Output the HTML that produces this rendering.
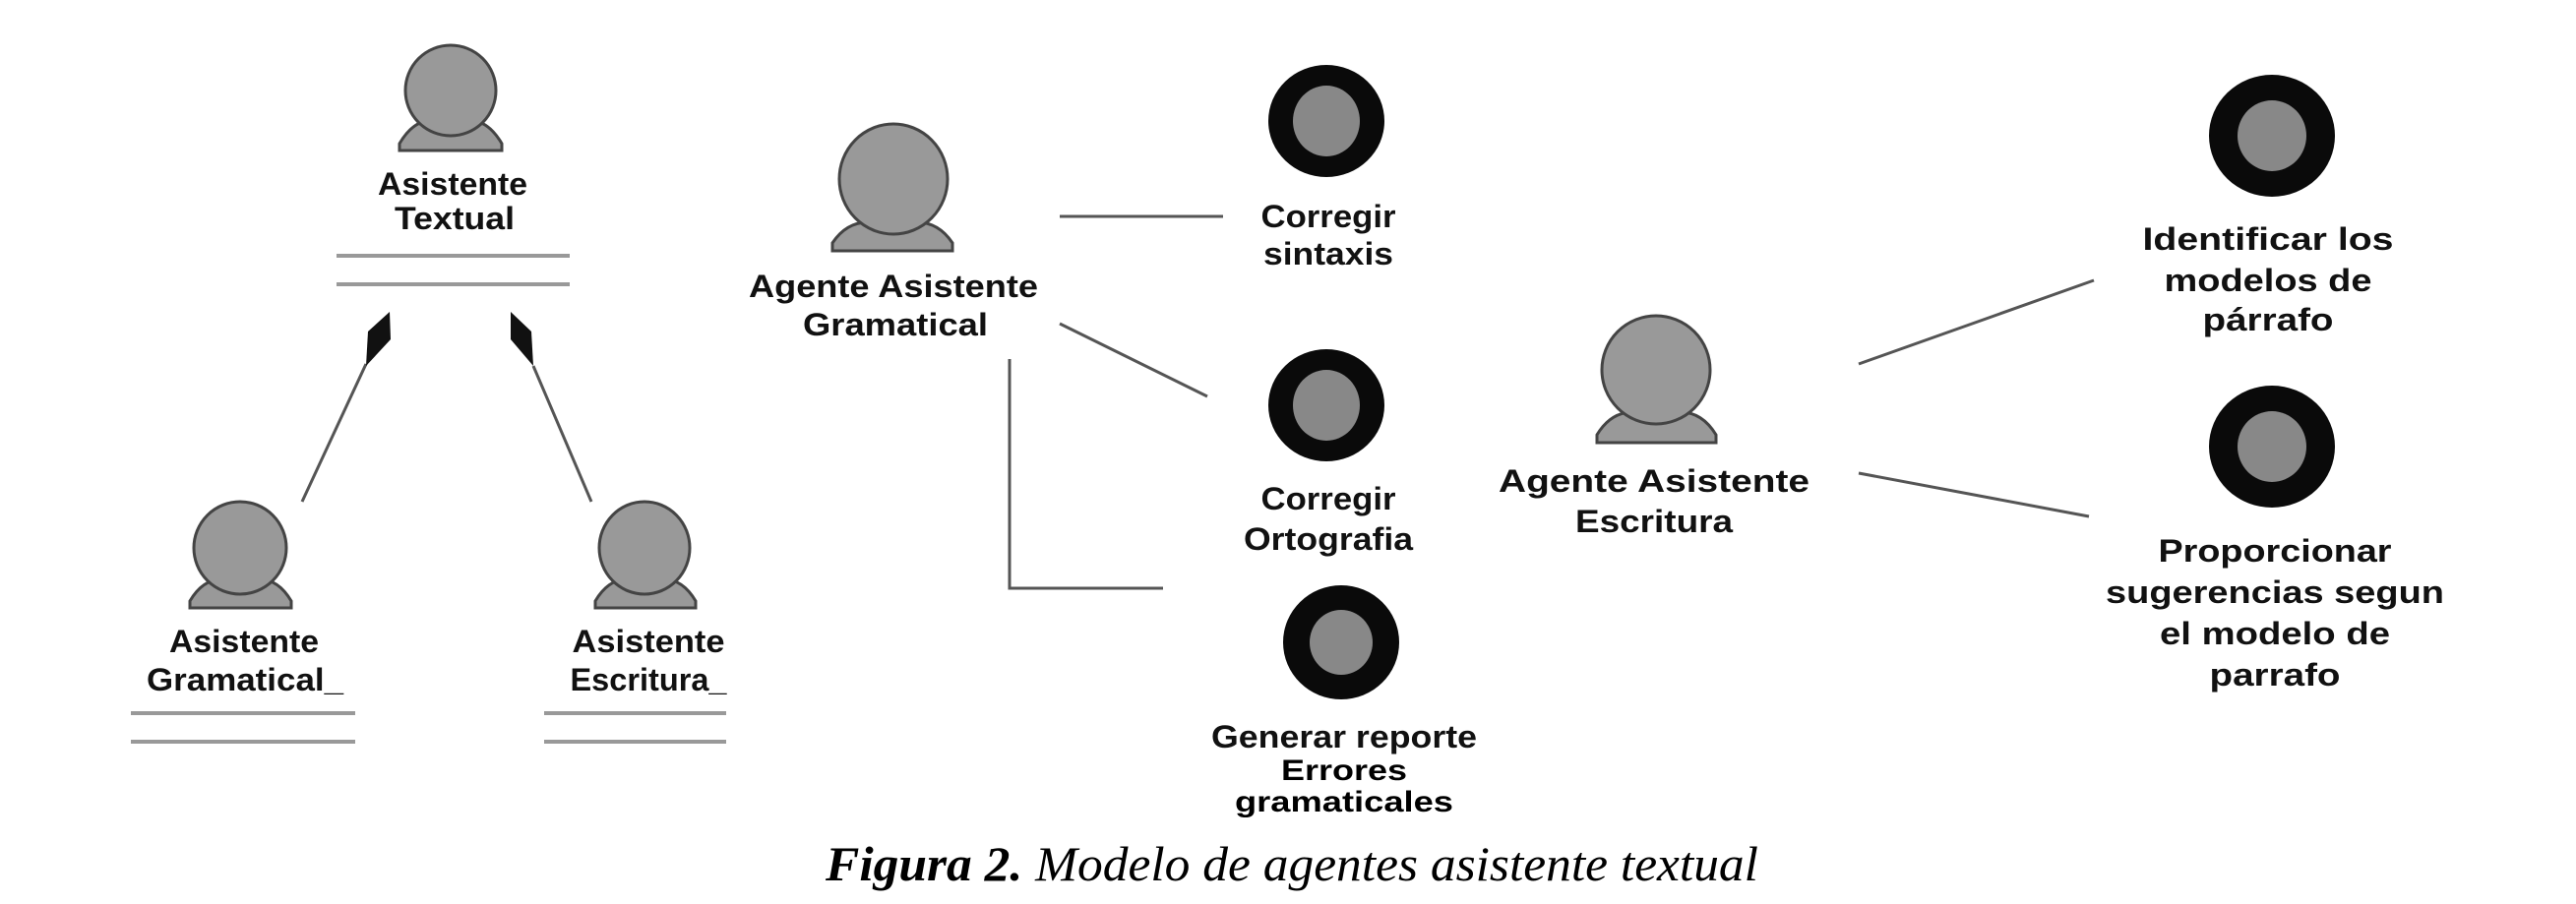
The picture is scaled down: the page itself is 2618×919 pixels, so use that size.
<!DOCTYPE html>
<html><head><meta charset="utf-8"><style>
html,body{margin:0;padding:0;background:#fff;}
svg{display:block;}
.l{font-family:"Liberation Sans",sans-serif;font-weight:bold;font-size:32px;fill:#111;text-anchor:middle;}
.c{font-family:"Liberation Sans",sans-serif;font-weight:bold;font-size:30px;fill:#000;text-anchor:middle;}
</style></head><body>
<svg width="2618" height="919" viewBox="0 0 2618 919" xmlns="http://www.w3.org/2000/svg">
<g stroke="#555" stroke-width="3" fill="none">
<line x1="372" y1="370" x2="307" y2="510"/>
<line x1="542" y1="372" x2="601" y2="510"/>
<polyline points="1026,365 1026,598 1182,598"/>
<line x1="1077" y1="220" x2="1243" y2="220"/>
<line x1="1077" y1="329" x2="1227" y2="403"/>
<line x1="1889" y1="370" x2="2128" y2="285"/>
<line x1="1889" y1="481" x2="2123" y2="525"/>
</g>
<polygon points="396,317 397,345 372,372 374,337" fill="#111"/>
<polygon points="519,317 540,337 542,372 519,345" fill="#111"/>
<g stroke="#999" stroke-width="4">
<line x1="342" y1="260" x2="579" y2="260"/><line x1="342" y1="289" x2="579" y2="289"/>
<line x1="133" y1="725" x2="361" y2="725"/><line x1="133" y1="754" x2="361" y2="754"/>
<line x1="553" y1="725" x2="738" y2="725"/><line x1="553" y1="754" x2="738" y2="754"/>
</g>
<g fill="#999" stroke="#444" stroke-width="3">
<path d="M406,153 L406,146 Q420,122 440,122 L476,122 Q496,122 510,146 L510,153 Z"/>
<ellipse cx="458" cy="92" rx="46" ry="46"/>
<path d="M193,618 L193,611 Q206,589 225,589 L264,589 Q283,589 296,611 L296,618 Z"/>
<ellipse cx="244" cy="557" rx="47" ry="47"/>
<path d="M605,618 L605,611 Q618,589 637,589 L675,589 Q694,589 707,611 L707,618 Z"/>
<ellipse cx="655" cy="557" rx="46" ry="47"/>
<path d="M846,255 L846,247 Q860,226 882,226 L932,226 Q954,226 968,247 L968,255 Z"/>
<ellipse cx="908" cy="182" rx="55" ry="56"/>
<path d="M1623,450 L1623,442 Q1637,419 1659,419 L1708,419 Q1730,419 1744,442 L1744,450 Z"/>
<ellipse cx="1683" cy="376" rx="55" ry="55"/>
</g>
<g>
<ellipse cx="1348" cy="123" rx="59" ry="57" fill="#0a0a0a"/><ellipse cx="1348" cy="123" rx="34" ry="36" fill="#888"/>
<ellipse cx="1348" cy="412" rx="59" ry="57" fill="#0a0a0a"/><ellipse cx="1348" cy="412" rx="34" ry="36" fill="#888"/>
<ellipse cx="1363" cy="653" rx="59" ry="58" fill="#0a0a0a"/><ellipse cx="1363" cy="653" rx="32" ry="33" fill="#888"/>
<ellipse cx="2309" cy="138" rx="64" ry="62" fill="#0a0a0a"/><ellipse cx="2309" cy="138" rx="35" ry="36" fill="#888"/>
<ellipse cx="2309" cy="454" rx="64" ry="62" fill="#0a0a0a"/><ellipse cx="2309" cy="454" rx="35" ry="36" fill="#888"/>
</g>
<g lengthAdjust="spacingAndGlyphs">
<text class="l" x="460" y="198" textLength="152" lengthAdjust="spacingAndGlyphs">Asistente</text>
<text class="l" x="462" y="233" textLength="122" lengthAdjust="spacingAndGlyphs">Textual</text>
<text class="l" x="248" y="663" textLength="152" lengthAdjust="spacingAndGlyphs">Asistente</text>
<text class="l" x="249" y="702" textLength="200" lengthAdjust="spacingAndGlyphs">Gramatical_</text>
<text class="l" x="659" y="663" textLength="155" lengthAdjust="spacingAndGlyphs">Asistente</text>
<text class="l" x="659" y="702" textLength="159" lengthAdjust="spacingAndGlyphs">Escritura_</text>
<text class="l" x="908" y="302" textLength="294" lengthAdjust="spacingAndGlyphs">Agente Asistente</text>
<text class="l" x="910" y="341" textLength="188" lengthAdjust="spacingAndGlyphs">Gramatical</text>
<text class="l" x="1350" y="231" textLength="137" lengthAdjust="spacingAndGlyphs">Corregir</text>
<text class="l" x="1350" y="269" textLength="132" lengthAdjust="spacingAndGlyphs">sintaxis</text>
<text class="l" x="1350" y="518" textLength="137" lengthAdjust="spacingAndGlyphs">Corregir</text>
<text class="l" x="1350" y="559" textLength="172" lengthAdjust="spacingAndGlyphs">Ortografia</text>
<text class="l" x="1366" y="760" textLength="270" lengthAdjust="spacingAndGlyphs">Generar reporte</text>
<text class="c" x="1366" y="793" textLength="128" lengthAdjust="spacingAndGlyphs">Errores</text>
<text class="c" x="1366" y="825" textLength="222" lengthAdjust="spacingAndGlyphs">gramaticales</text>
<text class="l" x="1681" y="500" textLength="316" lengthAdjust="spacingAndGlyphs">Agente Asistente</text>
<text class="l" x="1681" y="541" textLength="160" lengthAdjust="spacingAndGlyphs">Escritura</text>
<text class="l" x="2305" y="254" textLength="255" lengthAdjust="spacingAndGlyphs">Identificar los</text>
<text class="l" x="2305" y="296" textLength="211" lengthAdjust="spacingAndGlyphs">modelos de</text>
<text class="l" x="2305" y="336" textLength="133" lengthAdjust="spacingAndGlyphs">párrafo</text>
<text class="l" x="2312" y="571" textLength="237" lengthAdjust="spacingAndGlyphs">Proporcionar</text>
<text class="l" x="2312" y="613" textLength="344" lengthAdjust="spacingAndGlyphs">sugerencias segun</text>
<text class="l" x="2312" y="655" textLength="234" lengthAdjust="spacingAndGlyphs">el modelo de</text>
<text class="l" x="2312" y="697" textLength="133" lengthAdjust="spacingAndGlyphs">parrafo</text>
</g>
<text x="839" y="895" font-family="'Liberation Serif',serif" font-style="italic" font-size="50" fill="#000" textLength="948" lengthAdjust="spacingAndGlyphs"><tspan font-weight="bold">Figura 2.</tspan> Modelo de agentes asistente textual</text>
</svg>
</body></html>
